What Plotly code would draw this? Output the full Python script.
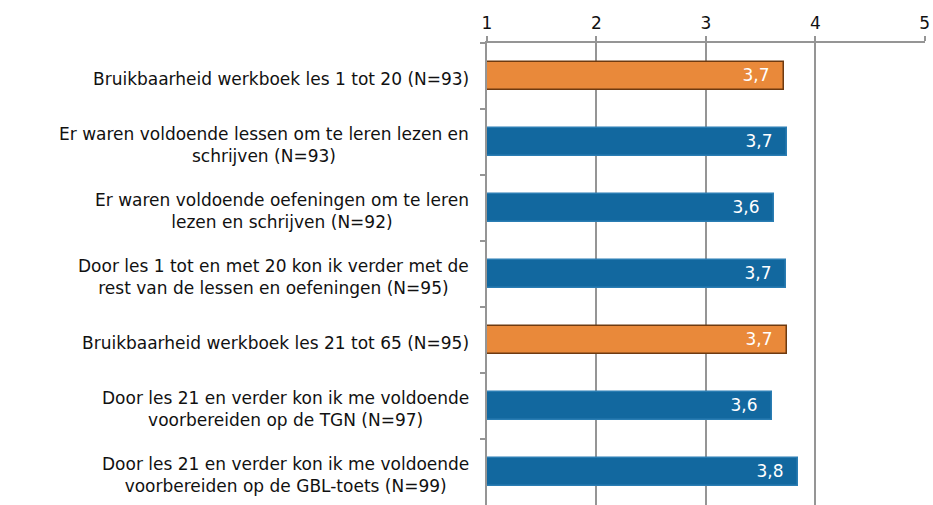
import plotly.graph_objects as go

labels = [
    'Bruikbaarheid werkboek les 1 tot 20 (N=93)',
    'Er waren voldoende lessen om te leren lezen en<br>schrijven (N=93)',
    'Er waren voldoende oefeningen om te leren<br>lezen en schrijven (N=92)',
    'Door les 1 tot en met 20 kon ik verder met de<br>rest van de lessen en oefeningen (N=95)',
    'Bruikbaarheid werkboek les 21 tot 65 (N=95)',
    'Door les 21 en verder kon ik me voldoende<br>voorbereiden op de TGN (N=97)',
    'Door les 21 en verder kon ik me voldoende<br>voorbereiden op de GBL-toets (N=99)',
]
scores = [3.71, 3.74, 3.62, 3.73, 3.74, 3.60, 3.84]
kind = ['werkboek', 'item', 'item', 'item', 'werkboek', 'item', 'item']
ticks = [1, 2, 3, 4, 5]

fill = {'werkboek': '#E9893A', 'item': '#12689F'}
edge = {'werkboek': '#6E3A10', 'item': '#2A7DB3'}
font = 'DejaVu Sans'

cats = [str(i) for i in range(len(labels))]

fig = go.Figure()
fig.add_trace(go.Bar(
    y=cats,
    x=scores,
    orientation='h',
    width=0.43,
    marker=dict(color=[fill[k] for k in kind],
                line=dict(color=[edge[k] for k in kind], width=1.5)),
    texttemplate='%{x:.1f}\u00a0\u00a0',
    textposition='inside',
    insidetextanchor='end',
    textfont=dict(color='white', size=17, family=font),
    hoverinfo='skip',
))

for c, lab in zip(cats, labels):
    fig.add_annotation(
        x=0, xref='paper', y=c, yref='y',
        text=lab, showarrow=False,
        xanchor='right', align='center', xshift=-16, yshift=-3,
        font=dict(size=17, color='#111', family=font),
    )

fig.update_layout(
    width=933, height=505,
    margin=dict(l=487, r=8, t=43, b=0),
    plot_bgcolor='white', paper_bgcolor='white',
    separators=',.',
    showlegend=False,
    bargap=0,
)
fig.update_xaxes(
    side='top', range=[1, 5.002], tickvals=ticks,
    showgrid=True, gridcolor='#959595', gridwidth=1.5,
    showline=True, linecolor='#959595', linewidth=1.5,
    ticks='outside', ticklen=5, tickcolor='#959595', tickwidth=1.5,
    tickfont=dict(size=17, color='#111', family=font),
    zeroline=False, fixedrange=True,
)
fig.update_yaxes(
    type='category', autorange='reversed',
    showticklabels=False, showgrid=False,
    showline=True, linecolor='#959595', linewidth=1.5,
    ticks='outside', tickson='boundaries', ticklen=5,
    tickcolor='#959595', tickwidth=1.5,
    fixedrange=True,
)

# drop the default page margin / scrollbars so the figure fills the window
fig.write_html('out.html',
               config={'displayModeBar': False},
               post_script="document.body.style.margin='0';"
                           "document.body.style.overflow='hidden';"
                           "document.documentElement.style.overflow='hidden';")
